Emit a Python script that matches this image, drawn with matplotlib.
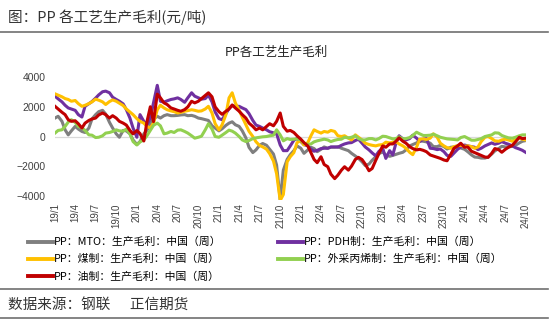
import numpy as np
import pandas as pd
import matplotlib
matplotlib.use('Agg')
import matplotlib.pyplot as plt
from matplotlib.lines import Line2D

plt.rcParams['font.family'] = ['Noto Sans CJK SC', 'DejaVu Sans']
plt.rcParams['axes.unicode_minus'] = True

# semi-monthly observations, 2019-01 .. 2024-10
dates = pd.date_range("2019-01-01", periods=139, freq="SMS")

mto = [1240, 1360, 1020, 450, 110, 380, 680, 500, 340, 270, 570, 1180, 1470, 1670, 1760, 1510,
       950, 570, 180, -50, 410, 380, 180, -230, -540, -340, 180, 410, 900, 1180, 1360, 1240,
       1400, 1470, 1400, 1400, 1420, 1450, 1470, 1400, 1420, 1360, 1240,
       1200, 1130, 1080, 720, 570, 380, 520, 750, 900, 990, 790, 680, 380, -90, -730, -1080,
       -900, -590, -470, -590, -860, -1180, -1920, -4250, -2260, -1540, -1220, -950, -630, -790,
       -1130, -900, -720, -810, -1020, -860, -700, -790, -720, -720, -680, -790, -860, -950,
       -1130, -1310, -1470, -1700, -1950, -1850, -1600, -1360, -1150,
       -1040, -1240, -1330, -1270, -1200, -1130, -1060, -900, -630, -540, -430, -290, -320,
       -360, -450, -680, -680, -590, -680, -840, -720, -700, -720, -770, -860, -1020, -1240,
       -1380, -1400, -1450, -1450, -1380, -1180, -970, -810, -660, -700, -700, -660, -590,
       -430, -320, -270]

pdh = [2710, 2530, 2330, 2100, 1920, 1850, 1760, 1470, 1310, 2030, 2210, 2350, 2580, 2800, 3010,
       3050, 2940, 2640, 2490, 2370, 2190, 1810, 1240, 570, -50, 1470, 1020, 790, 1240, 2260,
       3440, 2370, 2310, 2400, 2490, 2530, 2600, 2490, 2300, 2600, 2940, 2710, 2600,
       2510, 2550, 2780, 2330, 1650, 1200, 1130, 1540, 1880, 2080, 2030, 2030, 1920, 1810, 1540,
       1080, 770, 680, 570, 450, 320, 250, 180, -570, -950, -950, -630, -250, -140, -340, -540,
       -630, -860, -990, -930, -810, -790, -790, -700, -700, -720, -590, -500, -430, -410, -270,
       -180, -450, -700, -900, -1100, -1300, -1000,
       -790, -1470, -950, -1240, -450, 50, -160, -230, -140, 90, -110, -340, -180, -140, -790,
       -810, -880, -840, -1020, -1270, -1330, -1110, -860, -700, -570, -630, -680, -720, -880,
       -790, -630, -540, -430, -520, -450, -340, -450, -520, -630, -750, -840, -930, -1080]

coal = [2870, 2780, 2670, 2550, 2490, 2370, 2420, 2210, 2030, 2100, 2210, 2330, 2510, 2440, 2330,
        2150, 2350, 2460, 2370, 2240, 2080, 1850, 1650, 1470, 1200, 1020, 900, 680, 570, 900,
        1800, 2100, 1920, 1800, 1720, 1670, 1580, 1630, 1700, 1740, 1800, 1760, 1700,
        1720, 1850, 2030, 1580, 860, 450, 790, 1470, 2600, 2940, 2260, 1760, 1300, 800, 350, 0,
        -350, -600, -700, -850, -1150, -1650, -2500, -4300, -3900, -1700, -1360, -1080, -410,
        -270, -570, -410, 50, 450, 340, 230, 340, 290, 410, 340, 50, 0, 50, -110, -230, 110, -50,
        -230, -450, -540, -590, -630, -570,
        -540, -380, -430, -380, -340, -500, -630, -790, -1060, -1220, -720, -180, -160, -200,
        -110, 180, -50, -450, -630, -750, -790, -680, -610, -590, -660, -630, -680, -790, -700,
        -340, -50, 0, -140, -290, -320, -230, -180, -230, -320, -180, -110, -180, -230]

propylene = [230, 410, 450, 680, 970, 1130, 950, 680, 590, 410, 110, 90, -70, -50, 50, 230, 270,
             340, 450, 380, 360, 500, 180, -340, -570, -360, -230, 50, 410, 750, 900, 720, 180,
             230, 340, 270, 430, 450, 340, 230, 50, -110, -50,
             20, 450, 860, 500, 0, -50, 90, 270, 430, 360, 230, 0, -230, -340, -270, -140, -90,
             -50, -20, 0, 50, 90, 450, 110, -290, -140, -200, -180, -160, -230, -450, -540, -500,
             -360, -290, -230, -180, -230, -340, -250, -200, -180, -50, -90, -50, 50, -140, -230,
             -230, -140, -140, -230, -140,
             20, 0, -90, -160, -140, -20, -160, -140, -70, 70, 290, 180, 70, 70, 90, 160, 50, -50,
             -110, -160, -180, -200, -230, -70, 0, -110, -250, -250, -200, -140, 0, 50, 110, 250,
             230, 70, -20, -90, -110, -50, 50, 110, 110]

oil = [2030, 1850, 1630, 1470, 1130, 1020, 1060, 860, 570, 900, 1080, 1180, 1240, 1450, 1580,
       1470, 1240, 1400, 1240, 1020, 900, 770, 410, 180, 400, 200, -300, 1000, 2000, 1000, 2850,
       2600, 2260, 2150, 1920, 1850, 1760, 1700, 1810, 1990, 2370, 2260, 2370,
       2550, 2760, 2940, 2670, 1990, 1670, 1490, 1700, 1850, 2120, 1920, 1700, 1470, 1240, 900,
       680, 450, 570, 450, 680, 860, 720, 1020, 1580, 680, 360, 410, 270, 50, -180, -410, -630,
       -1080, -1540, -1760, -1360, -1880, -2030, -2530, -2830, -2600, -2260, -2030, -2260,
       -1990, -1540, -1400, -1550, -1850, -2300, -2150, -1600, -1150,
       -630, -720, -500, -500, -320, -90, -320, -450, -680, -810, -900, -860, -930, -1020,
       -1240, -1310, -1400, -1470, -1580, -1630, -1180, -790, -630, -450, -720, -700, -990,
       -1080, -1180, -1270, -1380, -1400, -1130, -810, -880, -1060, -860, -720, -590, -360,
       -50, -140, -110]

series = [
    (mto, '#7f7f7f', 'PP：MTO：生产毛利：中国（周）'),
    (pdh, '#7030a0', 'PP：PDH制：生产毛利：中国（周）'),
    (coal, '#ffc000', 'PP：煤制：生产毛利：中国（周）'),
    (propylene, '#92d050', 'PP：外采丙烯制：生产毛利：中国（周）'),
    (oil, '#c00000', 'PP：油制：生产毛利：中国（周）'),
]

quarters = pd.date_range("2019-01-01", "2024-10-01", freq="QS")
quarter_labels = [f"{d.year % 100}/{d.month}" for d in quarters]

fig = plt.figure(figsize=(5.5, 3.26), dpi=100)
fig.patch.set_facecolor('white')

ax = fig.add_axes([0.1, 0.385, 0.8564, 0.3788])
ax.axhline(0, color='#d9d9d9', lw=0.9, zorder=1)
handles = []
for vals, color, label in series:
    ax.plot(dates, vals, color=color, lw=2.2, solid_joinstyle='round', zorder=2)
    handles.append(Line2D([], [], color=color, lw=2.8, label=label))

ax.set_xlim(dates[0], dates[-1])
ax.set_ylim(-4300, 4000)
ax.set_yticks([-4000, -2000, 0, 2000, 4000])
ax.set_xticks(quarters)
ax.set_xticklabels(quarter_labels, rotation=90, fontsize=7, color='#404040',
                   family=['Liberation Sans'])
for t in ax.get_yticklabels():
    t.set_family(['Liberation Sans'])
ax.tick_params(axis='y', length=0, pad=7, labelsize=7.5, labelcolor='#404040')
ax.tick_params(axis='x', length=0, pad=2)
for s in ax.spines.values():
    s.set_visible(False)

fig.text(276 / 550, 1 - 52 / 326, 'PP各工艺生产毛利', ha='center', va='center',
         fontsize=9, color='#222222')

# legend: column-wise fill, left column MTO / 煤制 / 油制
order = [0, 2, 4, 1, 3]
fig.legend([handles[i] for i in order], [series[i][2] for i in order],
           loc='upper left', bbox_to_anchor=(28 / 550, 1 - 237 / 326), ncol=2,
           frameon=False, fontsize=7.8, handlelength=2.3, handletextpad=0.1,
           labelspacing=0.62, columnspacing=5.2, borderaxespad=0, borderpad=0)

# header / footer
fig.text(8 / 550, 1 - 17 / 326, '图：PP 各工艺生产毛利(元/吨)', ha='left', va='center',
         fontsize=10.5, color='#333333')
fig.text(8 / 550, 1 - 305 / 326, '数据来源：钢联      正信期货', ha='left', va='center',
         fontsize=10.5, color='#333333')
for yy in (32, 289, 318):
    fig.add_artist(Line2D([0, 548 / 550], [1 - yy / 326] * 2, color='#707070', lw=1.2))

fig.savefig('out.png', dpi=100)
